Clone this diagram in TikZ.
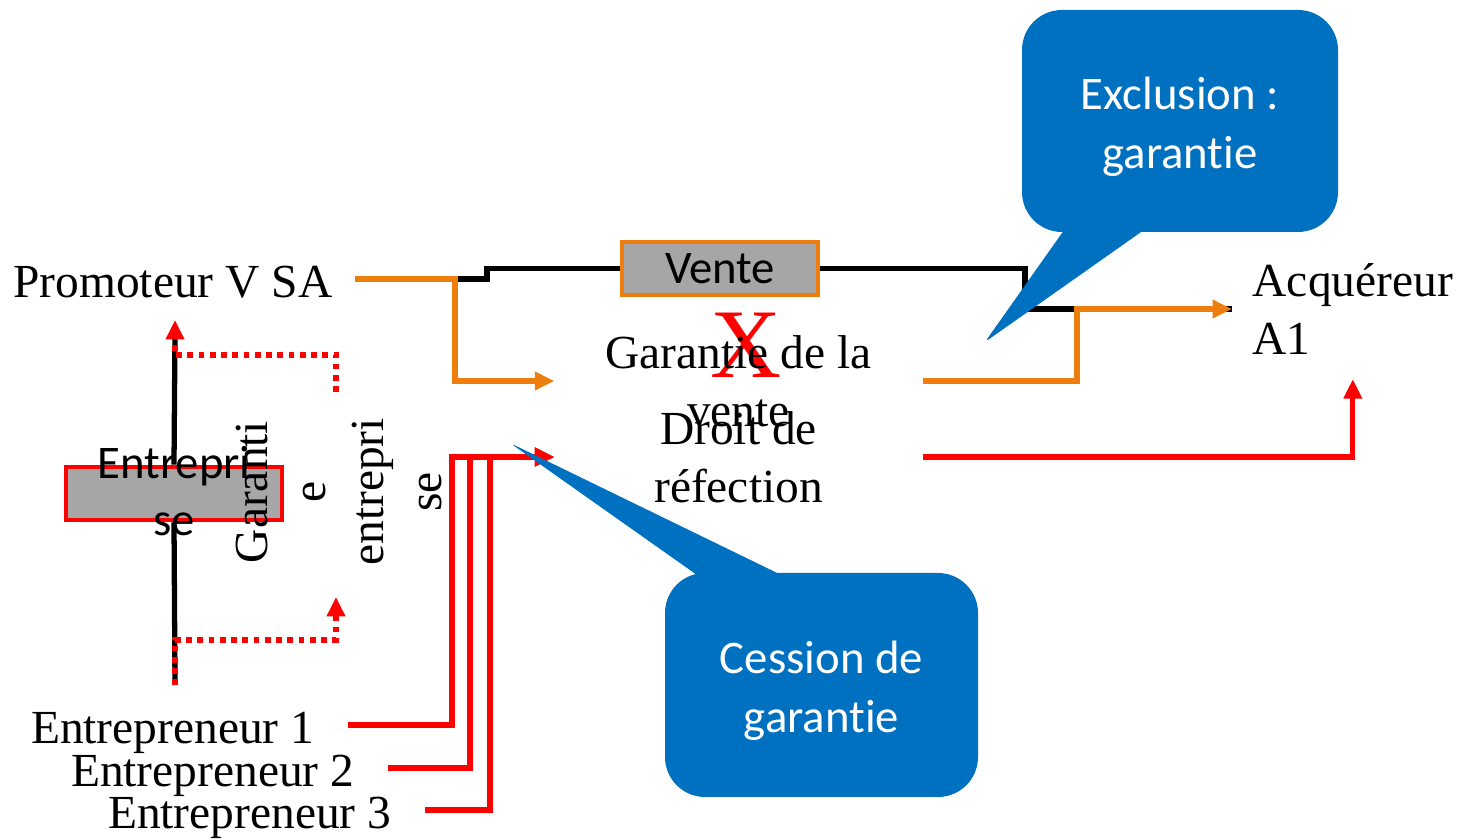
\documentclass[tikz,border=0pt]{standalone}
\usepackage{fontspec}
\setmainfont{Liberation Serif}
\newfontfamily\calibri[Ligatures=NoCommon]{Carlito}
\usetikzlibrary{arrows.meta, positioning, calc}

\definecolor{callblue}{HTML}{0070C0}
\definecolor{flow}{RGB}{237,125,12}
\definecolor{boxgray}{HTML}{A6A6A6}

\begin{document}
\begin{tikzpicture}[>={Triangle[length=5.5pt,width=5pt]},
  lbl/.style={font=\fontsize{13.5}{16.5}\selectfont, inner sep=0pt,
              text height=10.8pt, text depth=0pt},
  multi/.style={font=\fontsize{13.5}{16.5}\selectfont, align=center, inner sep=0pt},
  graybox/.style={rectangle, fill=boxgray, line width=1.4pt, inner sep=1pt,
                  minimum height=0.53cm, align=center,
                  font=\calibri\fontsize{13.3}{16.2}\selectfont},
  bubble/.style={rectangle, rounded corners=0.4cm, fill=callblue, text=white,
                 align=center, font=\calibri\fontsize{13.3}{16.6}\selectfont},
  blk/.style={line width=1.5pt, draw=black},
  org/.style={->, line width=1.5pt, draw=flow},
  rd/.style={->, line width=1.5pt, draw=red},
  rddot/.style={->, line width=1.5pt, draw=red, dash pattern=on 1.6pt off 1.6pt},
]
\useasboundingbox (0,0) rectangle (14.6,8.4);

%% ── Parties ─────────────────────────────────────────────────────────
\node[lbl, anchor=east, inner xsep=0.22cm] (prom) at (3.55,5.61) {Promoteur V SA};
\node[multi, align=left, anchor=west, inner xsep=0.2cm, inner ysep=0.24cm]
     (acq) at (12.32,5.31) {Acquéreur\\A1};
\node[lbl, anchor=east, inner xsep=0.33cm] (ent1) at (3.48,1.15) {Entrepreneur 1};
\node[lbl, anchor=east, inner xsep=0.33cm] (ent2) at (3.88,0.72) {Entrepreneur 2};
\node[lbl, anchor=east, inner xsep=0.33cm] (ent3) at (4.25,0.30) {Entrepreneur 3};

%% ── Contracts ───────────────────────────────────────────────────────
\node[graybox, draw=flow, minimum width=1.96cm] (vente) at (7.20,5.715) {Vente};
\node[graybox, draw=red, minimum width=2.16cm] (entbox) at (1.74,3.465)
     {\smash{\raisebox{-0.15cm}{\begin{tabular}{c}Entrepri\\se\end{tabular}}}};

%% ── Rights ──────────────────────────────────────────────────────────
\node[text=red, inner sep=0pt, font=\fontsize{28}{28}\selectfont] (cross) at (7.46,4.95) {X};
\node[multi, minimum width=3.67cm] (gar)   at (7.385,4.59) {Garantie de la\\vente};
\node[multi, minimum width=3.67cm] (droit) at (7.385,3.83) {Droit de\\réfection};
\node[multi, rotate=90] (gent) at (3.39,3.48) {Garanti\\e\\entrepri\\se};

%% ── Turning points ──────────────────────────────────────────────────
\coordinate (ojl)    at (4.55,5.61);
\coordinate (bkturn) at (10.25,5.50);
\coordinate (orturn) at (10.77,5.00);
\coordinate (r1)     at (4.52,2.50);
\coordinate (r2)     at (4.70,2.50);
\coordinate (r3)     at (4.90,2.50);
\coordinate (etop)   at (1.75,5.20);
\coordinate (ebot)   at (1.75,1.55);
\coordinate (gtop)   at (3.36,4.48);
\coordinate (gbot)   at (3.36,2.43);

%% ── Sale chain ──────────────────────────────────────────────────────
\draw[blk] (ojl) -- ++(0.32,0) |- (vente.west);
\draw[blk] (vente.east) -| (bkturn) |- (acq.west);
\draw[org] (prom.east) -- (ojl) |- (gar.west);
\draw[org] (gar.east) -| (orturn) |- (acq.west);
\draw[rd]  (droit.east) -| (acq.south);

%% ── Entrepreneurs ───────────────────────────────────────────────────
\draw[rd] (ent1.east) -| (r1) |- (droit.west);
\draw[rd] (ent2.east) -| (r2) |- (droit.west);
\draw[rd] (ent3.east) -| (r3) |- (droit.west);

%% ── Entreprise ──────────────────────────────────────────────────────
\draw[blk] (entbox.north) -- ($(etop)+(0,-0.12)$);
\draw[blk] (entbox.south) -- (ebot);
\draw[rddot] (gtop) |- ($(etop)+(0,-0.35)$) -- (etop);
\draw[rddot] (ebot) -- ++(0,0.45) -| (gbot);

%% ── Callouts ────────────────────────────────────────────────────────
\node[bubble, minimum width=3.16cm, minimum height=2.22cm] (excl) at (11.80,7.19)
     {\rule{0pt}{12.5pt}Exclusion :\\garantie};
\coordinate (excltip) at (9.85,4.98);
\fill[callblue, rounded corners=1.5pt]
     ($(excl.south west)+(0.48,0.1)$) -- (excltip) -- ($(excl.south west)+(1.33,0.1)$) -- cycle;

\node[bubble, minimum width=3.13cm, minimum height=2.24cm] (cess) at (8.215,1.55)
     {\rule{0pt}{12.5pt}Cession de\\garantie};
\coordinate (cesstip) at (5.10,3.97);
\fill[callblue, rounded corners=1.5pt]
     ($(cess.north west)+(0.43,-0.1)$) -- (cesstip) -- ($(cess.north west)+(1.32,-0.1)$) -- cycle;

\end{tikzpicture}
\end{document}
